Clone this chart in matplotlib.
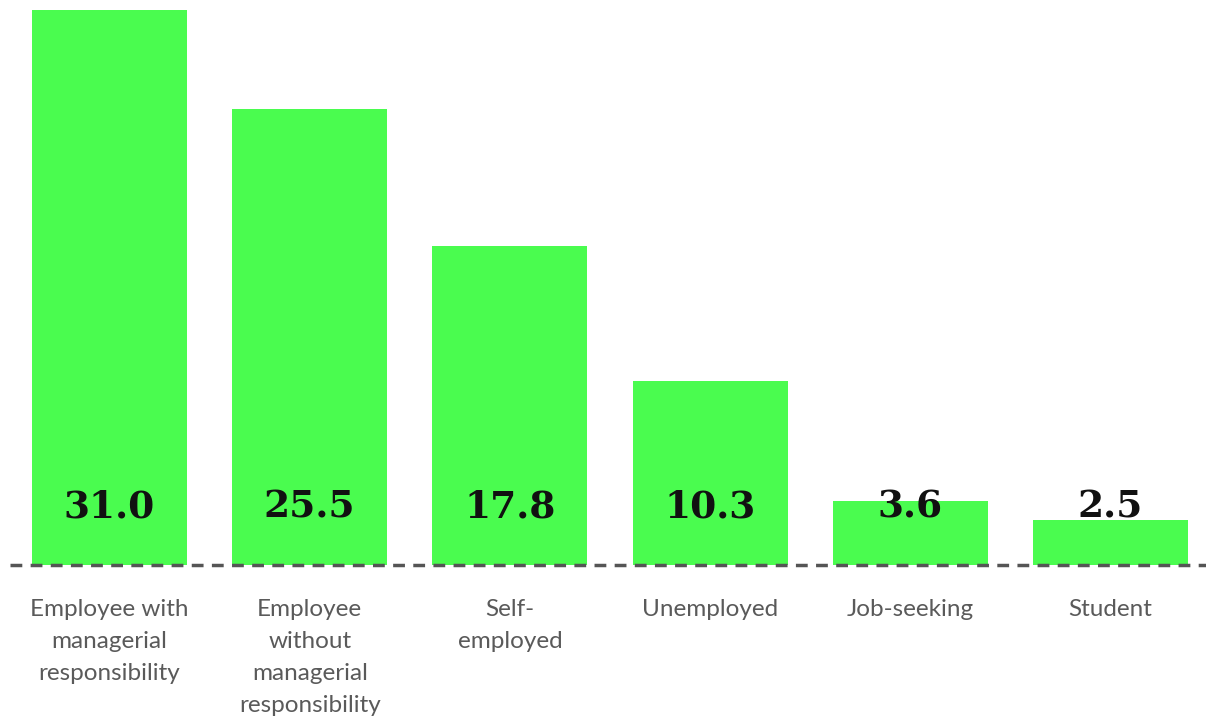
import matplotlib
matplotlib.use("Agg")
import matplotlib.pyplot as plt

categories = ["Employee with\nmanagerial\nresponsibility",
              "Employee\nwithout\nmanagerial\nresponsibility",
              "Self-\nemployed", "Unemployed", "Job-seeking", "Student"]
values = [31.0, 25.5, 17.8, 10.3, 3.6, 2.5]

W, H = 1206, 720
fig = plt.figure(figsize=(W/100, H/100), dpi=100)
base_px = 565
unit_px = 17.9
ax = fig.add_axes([0, 1 - base_px/H, 1, base_px/H])
spacing = 200.2
x0 = 109.5
ax.set_xlim(-x0/spacing, (W - x0)/spacing)
ax.set_ylim(0, base_px/unit_px)
ax.axis("off")

xs = list(range(len(values)))
ax.bar(xs, values, width=155/spacing, color="#4afc4f", zorder=1)
ax.plot([(10 - x0)/spacing, (W - x0)/spacing], [0, 0], color="#555555",
        lw=2.5, ls=(0, (3.4, 2.4)), zorder=2, clip_on=False)

for x, v in zip(xs, values):
    ax.text(x, 3.25, f"{v:.1f}", ha="center", va="center", fontsize=27,
            fontweight="bold", family="DejaVu Serif", color="#111111", zorder=3)

for x, c in zip(xs, categories):
    ax.text(x, -34/unit_px, c, ha="center", va="top", fontsize=17.5,
            family="Lato", color="#5a5a5a",
            linespacing=1.65, clip_on=False)

fig.savefig("out.png", dpi=100)
